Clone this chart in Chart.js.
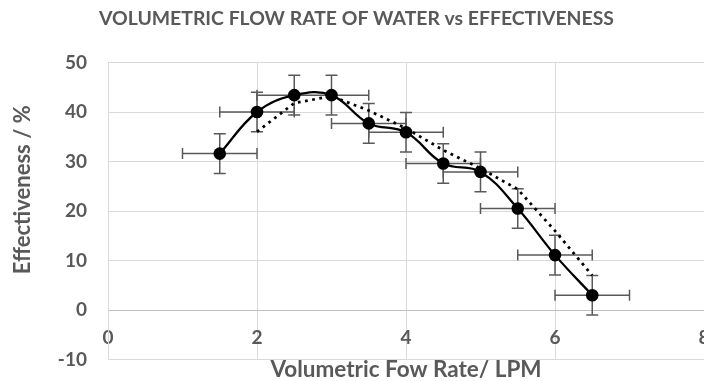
<!DOCTYPE html>
<html>
<head>
<meta charset="utf-8">
<script src="https://cdn.jsdelivr.net/npm/chart.js@4.4.1/dist/chart.umd.min.js"></script>
<style>
html, body { margin: 0; padding: 0; overflow: hidden; background: #ffffff; }
#wrap { position: relative; width: 734px; height: 392px; }
</style>
</head>
<body>
<div id="wrap"><canvas id="c" width="734" height="392"></canvas></div>
<script>
// ---- data ----
const flowRate      = [1.5, 2.0, 2.5, 3.0, 3.5, 4.0, 4.5, 5.0, 5.5, 6.0, 6.5];
const effectiveness = [31.6, 40.0, 43.4, 43.4, 37.7, 35.9, 29.6, 27.9, 20.5, 11.1, 3.0];
const effError      = [4, 4, 4, 4, 4, 4, 4, 4, 4, 4, 4];
const flowError     = [0.5, 0.5, 0.5, 0.5, 0.5, 0.5, 0.5, 0.5, 0.5, 0.5, 0.5];
const trendFlow     = [2.0, 2.5, 3.0, 3.5, 4.0, 4.5, 5.0, 5.5, 6.0, 6.5];
const trendEff      = [36.0, 41.8, 43.2, 40.3, 36.7, 32.3, 28.6, 24.4, 16.0, 7.0];
const xTicks        = [0, 2, 4, 6, 8];
const yTicks        = [-10, 0, 10, 20, 30, 40, 50];

const chartTitle = 'VOLUMETRIC FLOW RATE OF WATER vs EFFECTIVENESS';
const xTitle = 'Volumetric Fow Rate/ LPM';
const yTitle = 'Effectiveness / %';

const GREY = '#595959';
const FONT = 'Lato';

function draw() {
  const mainData = flowRate.map((x, i) => ({ x: x, y: effectiveness[i] }));
  const trendData = trendFlow.map((x, i) => ({ x: x, y: trendEff[i] }));
  const yErrData = [];
  const xErrData = [];
  flowRate.forEach((x, i) => {
    const y = effectiveness[i];
    yErrData.push({ x: x, y: y - effError[i] }, { x: x, y: y + effError[i] }, { x: x, y: null });
    xErrData.push({ x: x - flowError[i], y: y }, { x: x + flowError[i], y: y }, { x: x, y: null });
  });

  new Chart(document.getElementById('c'), {
    type: 'scatter',
    data: {
      datasets: [
        {
          label: 'Effectiveness',
          data: mainData,
          showLine: true,
          borderColor: '#000000',
          borderWidth: 2.25,
          tension: 0.4,
          pointRadius: 6.3,
          pointBackgroundColor: '#000000',
          pointBorderColor: '#000000',
          pointBorderWidth: 0,
          order: 0
        },
        {
          label: 'Trend',
          data: trendData,
          showLine: true,
          borderColor: '#000000',
          borderWidth: 2.75,
          borderDash: [2.75, 4.5],
          pointRadius: 0,
          tension: 0,
          order: 1
        },
        {
          label: 'Y error',
          data: yErrData,
          showLine: true,
          spanGaps: false,
          borderColor: GREY,
          borderWidth: 1.5,
          pointStyle: 'line',
          pointRadius: 6,
          pointBorderColor: GREY,
          pointBorderWidth: 1.5,
          order: 2
        },
        {
          label: 'X error',
          data: xErrData,
          showLine: true,
          spanGaps: false,
          borderColor: GREY,
          borderWidth: 1.5,
          pointStyle: 'line',
          pointRotation: 90,
          pointRadius: 5.5,
          pointBorderColor: GREY,
          pointBorderWidth: 1.5,
          order: 3
        }
      ]
    },
    options: {
      responsive: false,
      devicePixelRatio: 1,
      animation: false,
      events: [],
      layout: { padding: { left: 9, right: 30, top: 0, bottom: 0 } },
      plugins: {
        legend: { display: false },
        tooltip: { enabled: false },
        title: {
          display: true,
          text: chartTitle,
          color: GREY,
          font: { family: FONT, size: 19.4, weight: 'bold', lineHeight: 1.2 },
          padding: { top: 7.6, bottom: 31.6 }
        }
      },
      scales: {
        x: {
          type: 'linear',
          position: { y: 0 },
          min: xTicks[0],
          max: xTicks[xTicks.length - 1],
          ticks: {
            stepSize: xTicks[1] - xTicks[0],
            padding: 16,
            color: GREY,
            font: { family: FONT, size: 19, weight: 'bold', lineHeight: 1.2 }
          },
          grid: { color: '#d9d9d9', lineWidth: 1, drawTicks: false },
          border: { color: '#bfbfbf', width: 1 },
          title: {
            display: true,
            text: xTitle,
            color: GREY,
            font: { family: FONT, size: 22.5, weight: 'bold', lineHeight: 1.2 },
            padding: { top: -8.8, bottom: 0 }
          }
        },
        y: {
          type: 'linear',
          position: 'left',
          min: yTicks[0],
          max: yTicks[yTicks.length - 1],
          afterFit: (scale) => { scale.width = 99; },
          ticks: {
            stepSize: yTicks[1] - yTicks[0],
            padding: 21,
            color: GREY,
            font: { family: FONT, size: 19, weight: 'bold', lineHeight: 1.2 }
          },
          grid: { color: '#d9d9d9', lineWidth: 1, drawTicks: false },
          border: { color: '#d9d9d9', width: 1 },
          title: {
            display: true,
            text: yTitle + '        ',
            align: 'end',
            color: GREY,
            font: { family: FONT, size: 22, weight: 'bold', lineHeight: 1.2 },
            padding: { top: 0.8, bottom: 0 }
          }
        }
      }
    }
  });
}

if (document.fonts && document.fonts.load) {
  Promise.all([
    document.fonts.load('bold 19px Lato'),
    document.fonts.load('bold 22px Lato')
  ]).then(draw, draw);
} else {
  draw();
}
</script>
</body>
</html>
